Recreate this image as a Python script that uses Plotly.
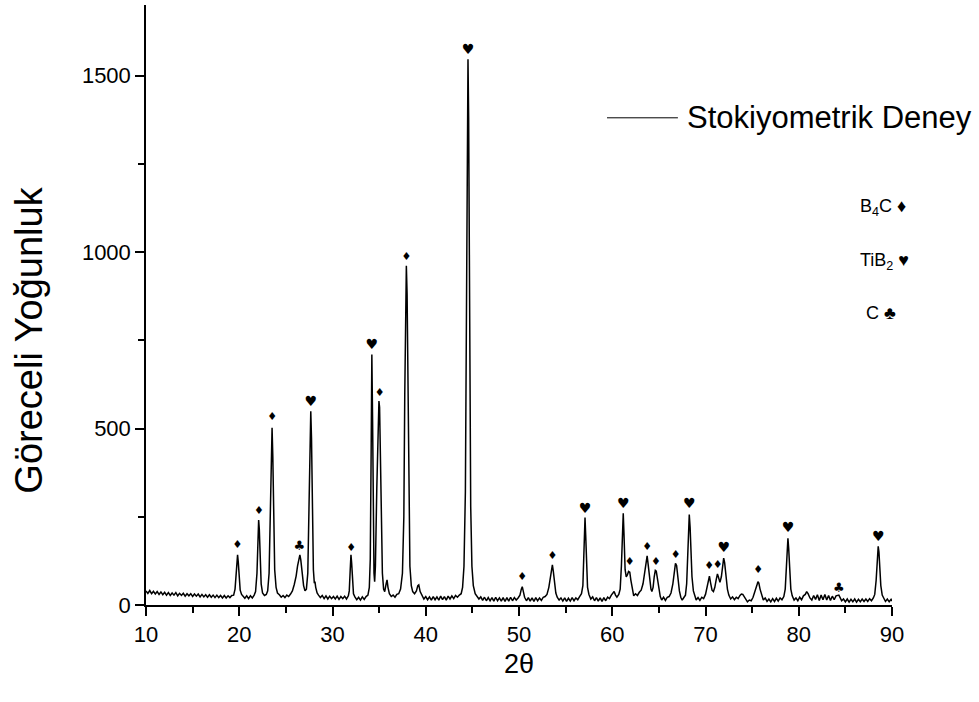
import plotly.graph_objects as go

# XRD pattern: 2-theta (deg) and relative intensity
two_theta = [
    10.0, 10.2, 10.4, 10.6, 10.8, 11.0, 11.2, 11.4, 11.6, 11.8, 12.0, 12.2, 12.4, 12.6, 12.8,
    13.0, 13.2, 13.4, 13.6, 13.8, 14.0, 14.2, 14.4, 14.6, 14.8, 15.0, 15.2, 15.4, 15.6, 15.8,
    16.0, 16.2, 16.4, 16.6, 16.8, 17.0, 17.2, 17.4, 17.6, 17.8, 18.0, 18.2, 18.4, 18.6, 18.8,
    19.0, 19.2, 19.4, 19.55, 19.65, 19.75, 19.82, 19.9, 20.0, 20.1, 20.25, 20.4, 20.6, 20.8,
    21.0, 21.2, 21.4, 21.6, 21.75, 21.9, 22.0, 22.08, 22.15, 22.25, 22.35, 22.5, 22.7, 22.9,
    23.05, 23.2, 23.35, 23.45, 23.52, 23.6, 23.7, 23.8, 23.95, 24.1, 24.3, 24.5, 24.7, 24.9,
    25.1, 25.3, 25.5, 25.7, 25.9, 26.1, 26.25, 26.4, 26.5, 26.6, 26.75, 26.9, 27.05, 27.2,
    27.35, 27.5, 27.6, 27.67, 27.75, 27.85, 27.95, 28.05, 28.12, 28.2, 28.35, 28.5, 28.7, 28.9,
    29.1, 29.3, 29.5, 29.7, 29.9, 30.1, 30.3, 30.5, 30.7, 30.9, 31.1, 31.3, 31.5, 31.7, 31.8,
    31.9, 31.98, 32.05, 32.15, 32.25, 32.4, 32.6, 32.8, 33.0, 33.2, 33.4, 33.6, 33.8, 33.95,
    34.05, 34.15, 34.22, 34.3, 34.38, 34.45, 34.52, 34.6, 34.75, 34.88, 34.98, 35.05, 35.15,
    35.25, 35.35, 35.48, 35.6, 35.75, 35.85, 35.95, 36.1, 36.3, 36.5, 36.7, 36.9, 37.1, 37.3,
    37.5, 37.65, 37.75, 37.85, 37.92, 38.0, 38.1, 38.2, 38.3, 38.45, 38.6, 38.8, 39.0, 39.15,
    39.25, 39.4, 39.6, 39.8, 40.0, 40.2, 40.4, 40.6, 40.8, 41.0, 41.2, 41.4, 41.6, 41.8, 42.0,
    42.2, 42.4, 42.6, 42.8, 43.0, 43.2, 43.4, 43.6, 43.8, 43.95, 44.1, 44.25, 44.38, 44.48,
    44.53, 44.6, 44.7, 44.82, 44.95, 45.1, 45.3, 45.5, 45.7, 45.9, 46.1, 46.3, 46.5, 46.7,
    46.9, 47.1, 47.3, 47.5, 47.7, 47.9, 48.1, 48.3, 48.5, 48.7, 48.9, 49.1, 49.3, 49.5, 49.7,
    49.9, 50.1, 50.25, 50.35, 50.45, 50.6, 50.8, 51.0, 51.2, 51.4, 51.6, 51.8, 52.0, 52.2,
    52.4, 52.6, 52.8, 53.0, 53.2, 53.35, 53.5, 53.58, 53.68, 53.8, 53.95, 54.1, 54.3, 54.5,
    54.7, 54.9, 55.1, 55.3, 55.5, 55.7, 55.9, 56.1, 56.3, 56.5, 56.7, 56.85, 56.95, 57.02,
    57.08, 57.15, 57.25, 57.35, 57.5, 57.7, 57.9, 58.1, 58.3, 58.5, 58.7, 58.9, 59.1, 59.3,
    59.5, 59.7, 59.9, 60.05, 60.2, 60.35, 60.5, 60.7, 60.85, 60.98, 61.1, 61.18, 61.26, 61.38,
    61.5, 61.62, 61.75, 61.88, 62.0, 62.15, 62.3, 62.5, 62.7, 62.9, 63.1, 63.3, 63.5, 63.65,
    63.74, 63.85, 64.0, 64.15, 64.25, 64.38, 64.5, 64.62, 64.72, 64.85, 65.0, 65.15, 65.3,
    65.5, 65.7, 65.9, 66.1, 66.3, 66.5, 66.65, 66.78, 66.9, 67.05, 67.2, 67.35, 67.5, 67.7,
    67.85, 67.98, 68.1, 68.2, 68.26, 68.35, 68.45, 68.55, 68.7, 68.85, 69.0, 69.2, 69.4, 69.6,
    69.8, 70.0, 70.15, 70.3, 70.42, 70.55, 70.7, 70.85, 71.0, 71.15, 71.28, 71.4, 71.55, 71.7,
    71.85, 71.95, 72.05, 72.2, 72.35, 72.5, 72.7, 72.9, 73.1, 73.3, 73.5, 73.7, 73.85, 74.0,
    74.15, 74.3, 74.5, 74.7, 74.9, 75.1, 75.3, 75.5, 75.62, 75.72, 75.85, 76.0, 76.2, 76.4,
    76.6, 76.8, 77.0, 77.2, 77.4, 77.6, 77.8, 78.0, 78.2, 78.4, 78.55, 78.68, 78.78, 78.84,
    78.92, 79.02, 79.15, 79.3, 79.5, 79.7, 79.9, 80.1, 80.3, 80.5, 80.7, 80.85, 81.0, 81.2,
    81.4, 81.6, 81.8, 82.0, 82.2, 82.4, 82.6, 82.8, 83.0, 83.2, 83.4, 83.6, 83.8, 84.0, 84.15,
    84.3, 84.45, 84.6, 84.8, 85.0, 85.2, 85.4, 85.6, 85.8, 86.0, 86.2, 86.4, 86.6, 86.8, 87.0,
    87.2, 87.4, 87.6, 87.8, 88.0, 88.15, 88.3, 88.42, 88.52, 88.6, 88.7, 88.8, 88.95, 89.1,
    89.3, 89.5, 89.7, 89.9, 90.0,
]
intensity = [
    40, 33, 41, 32, 39, 31, 38, 30, 37, 29, 36, 28, 35, 27, 34,
    28, 35, 26, 33, 27, 33, 25, 32, 26, 32, 24, 31, 25, 31, 23,
    30, 23, 29, 22, 29, 22, 28, 21, 28, 21, 27, 20, 27, 20, 26,
    21, 27, 28, 45, 90, 135, 142, 120, 70, 42, 30, 25, 19, 26,
    18, 26, 20, 28, 38, 90, 190, 241, 215, 130, 60, 34, 27, 30,
    40, 90, 250, 440, 502, 420, 230, 100, 50, 34, 29, 22, 27, 21,
    28, 24, 31, 40, 58, 82, 110, 138, 142, 128, 90, 55, 40, 45,
    90, 300, 510, 549, 470, 230, 100, 62, 66, 50, 34, 28, 21, 27,
    18, 26, 17, 25, 18, 24, 17, 25, 16, 24, 18, 25, 17, 26, 40,
    100, 142, 120, 60, 32, 23, 15, 22, 14, 23, 16, 24, 28, 50,
    130, 450, 710, 520, 200, 90, 66, 110, 330, 520, 578, 560, 400,
    200, 90, 45, 38, 60, 71, 50, 32, 24, 28, 22, 30, 32, 45,
    90, 250, 600, 900, 961, 880, 550, 240, 110, 55, 38, 32, 40, 55,
    57, 38, 27, 17, 24, 15, 23, 14, 24, 15, 23, 14, 25, 15, 24,
    14, 25, 17, 26, 18, 27, 22, 28, 32, 50, 110, 320, 900, 1450,
    1546, 1380, 800, 280, 110, 55, 32, 25, 17, 23, 13, 22, 12, 21,
    12, 21, 11, 22, 12, 20, 11, 21, 10, 21, 11, 22, 12, 21, 14,
    20, 28, 45, 52, 40, 22, 12, 21, 11, 20, 10, 21, 12, 20,
    13, 22, 24, 30, 50, 80, 108, 114, 95, 58, 34, 22, 14, 20,
    11, 20, 10, 19, 11, 21, 12, 20, 15, 24, 32, 55, 130, 220,
    248, 200, 100, 50, 30, 17, 23, 12, 21, 11, 20, 10, 21, 12,
    22, 18, 28, 34, 38, 28, 22, 30, 45, 110, 230, 260, 200, 100,
    80, 85, 95, 93, 70, 40, 26, 32, 27, 36, 42, 60, 100, 135,
    139, 115, 70, 45, 38, 50, 80, 98, 96, 70, 40, 24, 14,
    22, 13, 22, 24, 34, 60, 95, 118, 112, 75, 40, 22, 14, 22,
    28, 60, 160, 240, 256, 220, 140, 80, 40, 24, 14, 21, 13, 22,
    18, 30, 50, 75, 82, 62, 42, 38, 50, 72, 88, 78, 64, 80,
    118, 133, 120, 78, 45, 28, 17, 23, 15, 22, 18, 27, 31, 30,
    24, 16, 9, 14, 12, 22, 36, 55, 66, 62, 45, 28, 14, 20,
    10, 17, 9, 18, 10, 19, 11, 20, 15, 24, 45, 110, 180, 189,
    160, 95, 45, 26, 14, 20, 12, 22, 15, 26, 30, 38, 32, 20,
    14, 27, 16, 29, 13, 28, 15, 30, 14, 27, 13, 25, 15, 26, 27,
    28, 20, 12, 17, 9, 17, 8, 16, 9, 17, 8, 16, 9, 17, 10,
    17, 10, 18, 12, 20, 30, 70, 140, 166, 150, 100, 55, 28, 18,
    10, 17, 9, 16, 11,
]

# Phase identification symbols placed above the reflections
b4c_pos = [19.8, 22.1, 23.52, 32.0, 35.05, 37.92, 50.35, 53.58, 61.88, 63.74, 64.68, 66.8, 70.4, 71.3, 75.66]
b4c_mark = [168, 265, 531, 161, 601, 985, 79, 137, 120, 164, 120, 142, 109, 114, 99]
tib2_pos = [27.67, 34.22, 44.53, 57.08, 61.18, 68.26, 71.95, 78.84, 88.52]
tib2_mark = [575, 734, 1570, 270, 284, 284, 161, 216, 192]
c_pos = [26.45, 84.3]
c_mark = [166, 47]

x_ticks = [10, 20, 30, 40, 50, 60, 70, 80, 90]
y_ticks = [0, 500, 1000, 1500]

BASE_FONT = "Liberation Sans, Arial, sans-serif"
SYM_FONT = "DejaVu Sans, sans-serif"

fig = go.Figure()
fig.add_trace(go.Scatter(
    x=two_theta, y=intensity, mode="lines",
    line=dict(color="black", width=1.5), name="Stokiyometrik Deney",
    showlegend=False, hoverinfo="skip",
))
for pos, mark, sym, size in [
    (b4c_pos, b4c_mark, "\u2666", 11),
    (tib2_pos, tib2_mark, "\u2665", 14),
    (c_pos, c_mark, "\u2663", 13),
]:
    fig.add_trace(go.Scatter(
        x=pos, y=mark, mode="text", text=[sym] * len(pos),
        textposition="middle center",
        textfont=dict(family=SYM_FONT, size=size, color="black"),
        showlegend=False, hoverinfo="skip",
    ))

# Legend entry drawn as a line sample plus label
fig.add_shape(type="line", xref="paper", yref="paper",
              x0=0.618, x1=0.713, y0=0.812, y1=0.812,
              line=dict(color="black", width=1))
annotations = [
    dict(text="Stokiyometrik Deney", x=0.723, y=0.812, xanchor="left", yanchor="middle",
         font=dict(family=BASE_FONT, size=31, color="black")),
    dict(text="B<sub>4</sub>C \u2666", x=0.988, y=0.662, xanchor="center", yanchor="middle",
         font=dict(family=BASE_FONT, size=18, color="black")),
    dict(text="TiB<sub>2</sub> \u2665", x=0.990, y=0.572, xanchor="center", yanchor="middle",
         font=dict(family=BASE_FONT, size=18, color="black")),
    dict(text="C \u2663", x=0.985, y=0.487, xanchor="center", yanchor="middle",
         font=dict(family=BASE_FONT, size=18, color="black")),
    dict(text="Göreceli Yoğunluk", x=-0.157, y=0.442, xanchor="center", yanchor="middle",
         textangle=-90, font=dict(family=BASE_FONT, size=38, color="black")),
    dict(text="2θ", x=0.5, y=-0.098, xanchor="center", yanchor="middle",
         font=dict(family=BASE_FONT, size=27, color="black")),
]
for a in annotations:
    a.update(xref="paper", yref="paper", showarrow=False)
fig.update_layout(annotations=annotations)

fig.update_layout(
    width=979, height=702,
    margin=dict(l=146, r=87, t=5, b=97),
    paper_bgcolor="white", plot_bgcolor="white",
    font=dict(family=BASE_FONT, color="black"),
    xaxis=dict(
        range=[10, 90], tickvals=x_ticks, ticktext=[str(v) for v in x_ticks],
        ticks="outside", ticklen=9, tickwidth=1.5, tickcolor="black",
        showline=True, linecolor="black", linewidth=1.5, showgrid=False, zeroline=False,
        tickfont=dict(size=22, color="black"),
        minor=dict(dtick=5, ticks="outside", ticklen=6, tickwidth=1.5, tickcolor="black", showgrid=False),
    ),
    yaxis=dict(
        range=[0, 1700], tickvals=y_ticks, ticktext=[str(v) for v in y_ticks],
        ticks="outside", ticklen=9, tickwidth=1.5, tickcolor="black",
        showline=True, linecolor="black", linewidth=1.5, showgrid=False, zeroline=False,
        tickfont=dict(size=22, color="black"),
        minor=dict(dtick=250, ticks="outside", ticklen=6, tickwidth=1.5, tickcolor="black", showgrid=False),
    ),
)

fig.write_html("out.html")
